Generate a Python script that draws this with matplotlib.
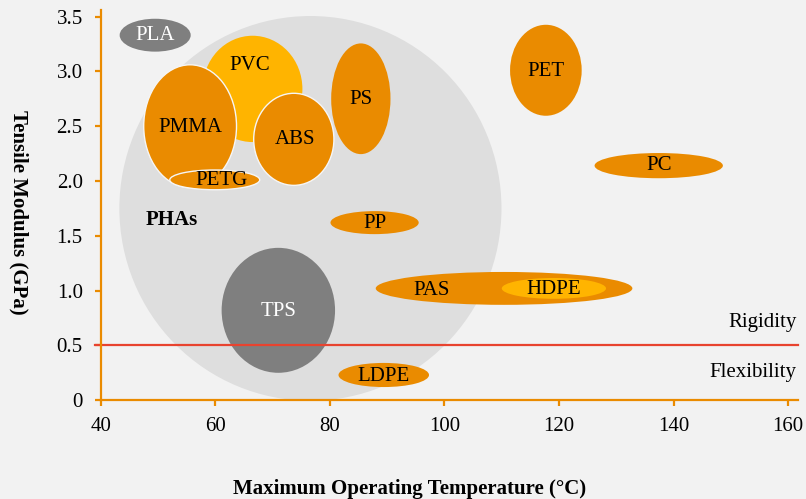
import matplotlib
matplotlib.use('Agg')
import matplotlib.pyplot as plt
from matplotlib.patches import Ellipse

# bubble data: max operating temp (C), tensile modulus (GPa), spread in x and y
materials = ['PHAs', 'PLA', 'PVC', 'PMMA', 'PETG', 'ABS', 'PS', 'PET', 'PC', 'PP',
             'PAS', 'HDPE', 'TPS', 'LDPE']
temp_center = [76.6, 49.5, 66.5, 55.6, 59.9, 73.7, 85.4, 117.7, 137.4, 87.8,
               110.4, 119.1, 71.0, 89.4]
modulus_center = [1.75, 3.33, 2.84, 2.50, 2.01, 2.38, 2.75, 3.01, 2.14, 1.62,
                  1.02, 1.02, 0.82, 0.23]
temp_range = [66.7, 12.4, 17.4, 16.2, 15.7, 14.0, 10.35, 12.5, 22.4, 15.4,
              44.8, 18.2, 19.8, 15.8]
modulus_range = [3.51, 0.30, 0.97, 1.12, 0.18, 0.84, 1.01, 0.83, 0.23, 0.21,
                 0.30, 0.19, 1.14, 0.22]
label_x = [52.4, 49.5, 66.0, 55.6, 61.1, 73.9, 85.4, 117.7, 137.4, 87.8,
           97.8, 119.1, 71.0, 89.4]
label_y = [1.64, 3.33, 3.05, 2.49, 2.00, 2.38, 2.74, 3.00, 2.14, 1.61,
           1.00, 1.01, 0.81, 0.22]

threshold = 0.5
x_ticks = [40, 60, 80, 100, 120, 140, 160]
y_ticks = [0, 0.5, 1.0, 1.5, 2.0, 2.5, 3.0, 3.5]
y_tick_labels = ['0', '0.5', '1.0', '1.5', '2.0', '2.5', '3.0', '3.5']

orange = '#ea8b00'
yellow = '#ffb400'
dark_gray = '#7f7f7f'
light_gray = '#dedede'
bg = '#f2f2f2'

fills = {'PHAs': light_gray, 'PLA': dark_gray, 'PVC': yellow, 'HDPE': yellow,
         'TPS': dark_gray}
white_edge = ['PMMA', 'PETG', 'ABS']
white_text = ['PLA', 'TPS']

plt.rcParams['font.family'] = ['Liberation Serif', 'DejaVu Serif']

fig = plt.figure(figsize=(8.06, 4.99), dpi=100, facecolor=bg)
ax = fig.add_axes([0.125, 0.198, 0.865, 0.782])
ax.set_facecolor(bg)

for i, name in enumerate(materials):
    color = fills.get(name, orange)
    if name in white_edge:
        e = Ellipse((temp_center[i], modulus_center[i]), temp_range[i], modulus_range[i],
                    facecolor=color, edgecolor='#f6f6f6', linewidth=1.0, zorder=i + 1)
    else:
        e = Ellipse((temp_center[i], modulus_center[i]), temp_range[i], modulus_range[i],
                    facecolor=color, edgecolor='none', zorder=i + 1)
    ax.add_patch(e)
    if name == 'PHAs':
        ax.text(label_x[i], label_y[i], name, fontsize=15, fontweight='bold',
                ha='center', va='center', zorder=30)
    else:
        ax.text(label_x[i], label_y[i], name, fontsize=15,
                color='white' if name in white_text else 'black',
                ha='center', va='center', zorder=30)

ax.axhline(threshold, xmin=-0.008, xmax=1, color='#e8432f', linewidth=1.6,
           zorder=40, clip_on=False)
ax.text(161.5, 0.71, 'Rigidity', fontsize=15, ha='right', va='center')
ax.text(161.5, 0.25, 'Flexibility', fontsize=15, ha='right', va='center')

ax.set_xlim(40, 161.7)
ax.set_ylim(0, 3.56)
ax.set_xticks(x_ticks)
ax.set_yticks(y_ticks)
ax.set_yticklabels(y_tick_labels)

for side in ['top', 'right']:
    ax.spines[side].set_visible(False)
for side in ['left', 'bottom']:
    ax.spines[side].set_color(orange)
    ax.spines[side].set_linewidth(1.6)
    ax.spines[side].set_zorder(50)
ax.tick_params(axis='both', colors=orange, length=4.5, width=1.6, labelsize=15,
               labelcolor='black')
ax.tick_params(axis='y', pad=8.5)
ax.tick_params(axis='x', pad=7.5)

fig.text(410 / 806, 0.02, 'Maximum Operating Temperature (°C)', fontsize=15,
         fontweight='bold', ha='center', va='center')
fig.text(19 / 806, 0.575, 'Tensile Modulus (GPa)', fontsize=15, fontweight='bold',
         rotation=-90, ha='center', va='center')

fig.savefig('out.png', dpi=100, facecolor=bg)
